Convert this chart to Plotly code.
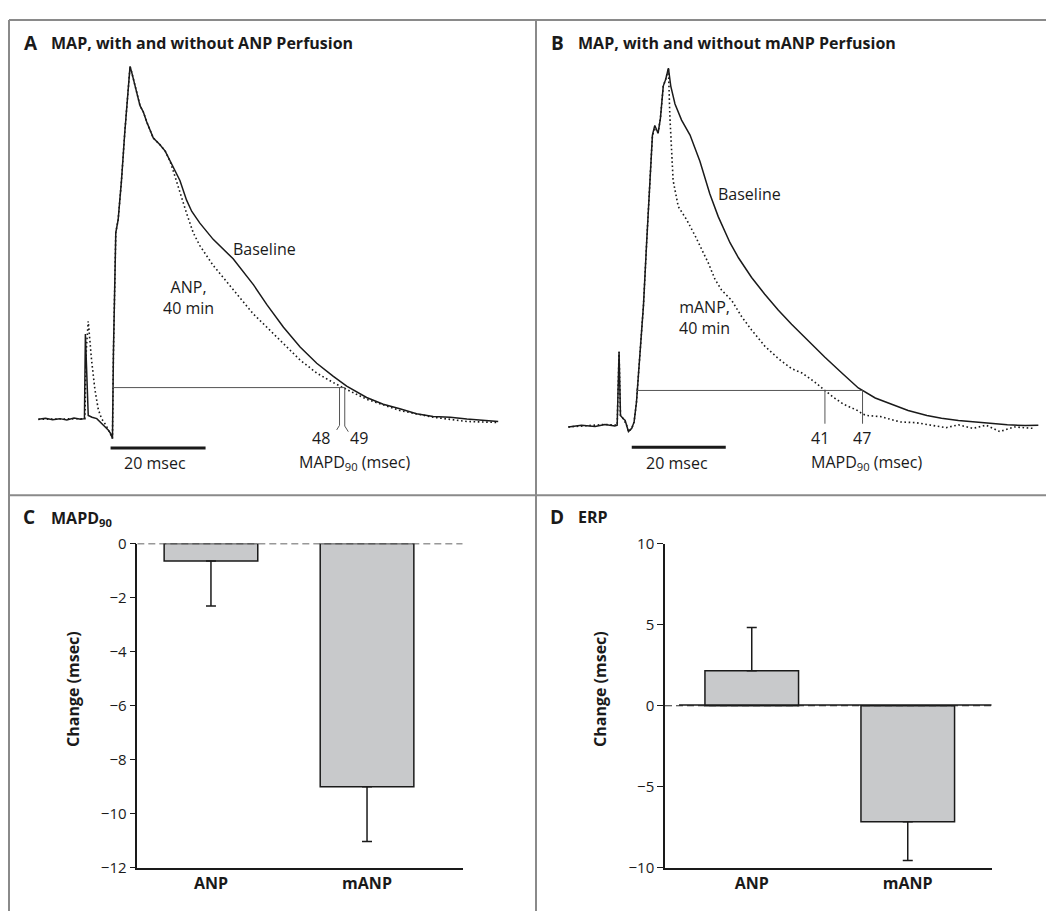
import plotly.graph_objects as go

W, H = 1054, 912
OFF = 8  # page body margin in the browser shifts the figure by this many pixels

# ---------------- Panel A data (time in msec from upstroke, amplitude in % of peak) ----------------
a_base_t = [-15.5, -14.0, -12.5, -11.0, -9.5, -8.0, -6.6, -5.8, -5.6, -5.0, -4.2, -3.2, -1.8, -0.8, -0.3, 0.1,
            0.3, 0.6, 0.8, 1.3, 2.0, 2.7, 3.1, 3.4, 3.8, 4.1, 4.5, 5.2, 5.9, 6.6, 7.3, 8.7, 10.1, 11.2,
            12.2, 12.9, 14.3, 15.7, 16.8, 18.5, 21.3, 25.5, 29.8, 32.6, 36.1, 39.6, 43.1, 46.6, 49.4,
            53.6, 57.1, 60.6, 64.1, 67.6, 71.2, 74.7, 78.2, 81.3]
a_base_v = [0.0, 0.3, -0.1, 0.2, -0.2, 0.4, 0.0, 0.2, 24.2, 1.1, 0.6, 0.2, -1.7, -3.0, -4.0, -5.4,
            18.7, 41.8, 52.9, 56.6, 67.7, 81.5, 88.0, 94.5, 100.0, 98.6, 96.3, 92.6, 88.9, 87.1, 84.3, 79.7, 77.8, 76.0,
            73.2, 71.3, 67.7, 62.1, 58.9, 55.6, 51.0, 45.5, 38.1, 32.5, 26.1, 20.5, 15.9, 12.2, 9.4,
            6.2, 4.3, 3.0, 1.6, 0.8, 0.6, 0.1, -0.2, -0.6]

a_drug_t = [-15.5, -8.0, -5.7, -5.4, -5.0, -4.3, -3.6, -2.9, -2.2, -1.2, -0.4, 0.1,
            0.3, 0.6, 0.8, 1.3, 2.0, 2.7, 3.1, 3.4, 3.8, 4.1, 4.5, 5.2, 5.9, 6.6, 7.3, 8.7, 10.1, 11.2, 12.2,
            12.9, 14.3, 15.7, 17.1, 18.5, 21.3, 24.1, 26.9, 29.8, 32.6, 36.1, 39.6, 43.1, 46.6, 50.1,
            53.6, 60.6, 67.6, 74.7, 81.3]
a_drug_v = [0.0, 0.3, 0.2, 20.0, 27.8, 16.8, 8.5, 2.9, 0.2, -1.8, -3.8, -5.4,
            18.7, 41.8, 52.9, 56.6, 67.7, 81.5, 88.0, 94.5, 100.0, 98.6, 96.3, 92.6, 88.9, 87.1, 84.3, 79.7, 77.8, 76.0, 73.2,
            70.4, 64.3, 58.4, 52.9, 49.2, 43.6, 39.0, 34.4, 29.8, 26.1, 21.4, 16.8, 13.1, 10.4, 8.0,
            5.7, 2.5, 0.6, -0.6, -0.9]

# ---------------- Panel B data ----------------
b_base_t = [-14.4, -11.6, -8.7, -6.6, -4.5, -4.0, -3.6, -3.3, -2.7, -2.3, -2.0, -1.6, -0.9, -0.4,
            0.1, 0.9, 1.6, 2.3, 3.0, 3.5, 4.0, 4.7, 5.2, 5.8, 6.3, 6.9, 7.4, 8.3, 9.7, 11.5,
            13.6, 15.7, 17.5, 20.0, 21.8, 24.6, 27.4, 30.3, 33.1, 36.7, 40.2, 43.8, 47.3,
            50.9, 53.3, 57.9, 61.9, 65.0, 68.6, 72.0, 75.7, 79.0, 82.8, 85.6]
b_base_v = [-0.3, 0.2, -0.2, 0.4, 0.0, 0.2, 20.7, 2.9, 2.0, 1.5, 0.2, -1.6, -0.7, 1.1,
            6.6, 20.2, 33.9, 52.1, 70.4, 81.3, 84.0, 81.8, 86.0, 95.0, 96.8, 100.0, 95.0, 90.0, 85.5, 81.3,
            74.0, 64.9, 58.5, 51.2, 47.0, 41.5, 36.8, 32.3, 28.4, 23.6, 19.2, 14.8, 10.6,
            7.8, 6.6, 4.3, 2.9, 2.1, 1.5, 1.1, 0.7, 0.3, 0.1, 0.2]

b_drug_t = [-14.4, -6.6, -4.0, -3.6, -3.3, -2.7, -2.0, -1.6, -0.9, -0.4,
            0.1, 0.9, 1.6, 2.3, 3.0, 3.5, 4.0, 4.7, 5.2, 5.8, 6.3, 6.9,
            7.2, 7.6, 7.9, 9.0, 10.8, 12.6, 13.6, 15.4, 16.8, 18.2, 20.4, 22.5, 24.6,
            27.4, 30.3, 33.1, 35.3, 38.0, 39.9, 42.0, 44.1, 47.3, 48.2, 49.1, 52.0, 56.2, 59.5, 63.2,
            66.0, 68.6, 71.7, 74.5, 77.4, 80.5, 84.5]
b_drug_v = [-0.3, 0.4, 0.2, 20.7, 2.9, 2.0, 0.2, -1.6, -0.7, 1.1,
            6.6, 20.2, 33.9, 52.1, 70.4, 81.3, 82.8, 82.0, 86.0, 95.0, 96.8, 100.0,
            86.8, 77.7, 68.6, 61.3, 57.6, 53.1, 50.3, 45.5, 41.0, 38.0, 35.0, 30.5, 26.8,
            22.3, 18.8, 16.0, 14.8, 12.3, 10.2, 8.0, 6.1, 4.2, 3.3, 2.9, 2.6, 1.1, 0.9, 0.2,
            -0.5, 0.3, -0.7, 0.2, -1.6, -0.3, -0.7]

# MAPD90 readouts
a_mapd_level = 9.0
a_mapd_pos = [47.9, 49.0]
a_mapd_labels = ["48", "49"]
b_mapd_level = 9.9
b_mapd_pos = [40.2, 48.2]
b_mapd_labels = ["41", "47"]
scale_bar_ms = 20

# ---------------- Panels C and D (change in msec) ----------------
groups = ["ANP", "mANP"]
mapd_change = [-0.65, -9.0]
mapd_err = [1.66, 2.02]
erp_change = [2.16, -7.15]
erp_err = [2.66, 2.39]

mapd_ticks = [0, -2, -4, -6, -8, -10, -12]
erp_ticks = [10, 5, 0, -5, -10]

INK = "#1a1a1a"
BAR = "#c8c9cb"
GRAYLINE = "#555555"
FONT = "Open Sans"
LBL = 16


def px(x):
    return (x - OFF) / W


def py(y):
    return 1 - (y - OFF) / H


fig = go.Figure()

# --- Panel A traces
fig.add_trace(go.Scatter(x=a_drug_t, y=a_drug_v, mode="lines", xaxis="x", yaxis="y",
                         line=dict(color=INK, width=1.6, dash="1.6px,2.6px"), hoverinfo="skip"))
fig.add_trace(go.Scatter(x=a_base_t, y=a_base_v, mode="lines", xaxis="x", yaxis="y",
                         line=dict(color=INK, width=1.5), hoverinfo="skip"))
fig.add_trace(go.Scatter(x=[0, a_mapd_pos[1]], y=[a_mapd_level, a_mapd_level], mode="lines",
                         xaxis="x", yaxis="y", line=dict(color=GRAYLINE, width=1), hoverinfo="skip"))
fig.add_trace(go.Scatter(x=[a_mapd_pos[0] - 0.6, a_mapd_pos[0], a_mapd_pos[0]],
                         y=[-3.0, -1.7, a_mapd_level], mode="lines", xaxis="x", yaxis="y",
                         line=dict(color=GRAYLINE, width=1), hoverinfo="skip"))
fig.add_trace(go.Scatter(x=[a_mapd_pos[1] + 0.75, a_mapd_pos[1], a_mapd_pos[1]],
                         y=[-3.5, -1.9, a_mapd_level], mode="lines", xaxis="x", yaxis="y",
                         line=dict(color=GRAYLINE, width=1), hoverinfo="skip"))
fig.add_trace(go.Scatter(x=[-0.3, -0.3 + scale_bar_ms], y=[-8.1, -8.1], mode="lines", xaxis="x", yaxis="y",
                         line=dict(color=INK, width=3), hoverinfo="skip"))

# --- Panel B traces
fig.add_trace(go.Scatter(x=b_drug_t, y=b_drug_v, mode="lines", xaxis="x2", yaxis="y2",
                         line=dict(color=INK, width=1.6, dash="1.6px,2.6px"), hoverinfo="skip"))
fig.add_trace(go.Scatter(x=b_base_t, y=b_base_v, mode="lines", xaxis="x2", yaxis="y2",
                         line=dict(color=INK, width=1.5), hoverinfo="skip"))
fig.add_trace(go.Scatter(x=[0, b_mapd_pos[1]], y=[b_mapd_level, b_mapd_level], mode="lines",
                         xaxis="x2", yaxis="y2", line=dict(color=GRAYLINE, width=1), hoverinfo="skip"))
for p in b_mapd_pos:
    fig.add_trace(go.Scatter(x=[p, p], y=[0.6, b_mapd_level], mode="lines", xaxis="x2", yaxis="y2",
                             line=dict(color=GRAYLINE, width=1), hoverinfo="skip"))
fig.add_trace(go.Scatter(x=[-0.9, -0.9 + scale_bar_ms], y=[-6.0, -6.0], mode="lines", xaxis="x2", yaxis="y2",
                         line=dict(color=INK, width=3), hoverinfo="skip"))

# --- Panel C bars
fig.add_trace(go.Bar(x=[0, 1], y=mapd_change, width=0.6, xaxis="x3", yaxis="y3",
                     marker=dict(color=BAR, line=dict(color=INK, width=1.5)),
                     error_y=dict(type="data", symmetric=False, array=[0, 0], arrayminus=mapd_err,
                                  color=INK, thickness=1.5, width=5), hoverinfo="skip"))
fig.add_trace(go.Scatter(x=[-0.472, 1.613], y=[0, 0], mode="lines", xaxis="x3", yaxis="y3",
                         line=dict(color="#333333", width=1.2, dash="7px,4px"), hoverinfo="skip"))

# --- Panel D bars
fig.add_trace(go.Bar(x=[0, 1], y=erp_change, width=0.6, xaxis="x4", yaxis="y4",
                     marker=dict(color=BAR, line=dict(color=INK, width=1.5)),
                     error_y=dict(type="data", symmetric=False, array=[erp_err[0], 0],
                                  arrayminus=[0, erp_err[1]], color=INK, thickness=1.5, width=5),
                     hoverinfo="skip"))
fig.add_trace(go.Scatter(x=[-0.556, 1.538], y=[0, 0], mode="lines", xaxis="x4", yaxis="y4",
                         line=dict(color="#333333", width=1.2, dash="7px,4px"), hoverinfo="skip"))
fig.add_trace(go.Scatter(x=[-0.466, 1.538], y=[0.05, 0.05], mode="lines", xaxis="x4", yaxis="y4",
                         line=dict(color=INK, width=1.4), hoverinfo="skip"))

hidden = dict(visible=False, fixedrange=True)
bar_x = dict(showline=True, linecolor=INK, linewidth=1.5, ticks="", showgrid=False, zeroline=False,
             tickvals=[0, 1], ticktext=["<b>%s</b>" % g for g in groups],
             tickfont=dict(family=FONT, size=16, color=INK), fixedrange=True)
bar_y = dict(showline=True, linecolor=INK, linewidth=1.5, ticks="outside", ticklen=6, tickwidth=1.2,
             tickcolor=INK, showgrid=False, zeroline=False,
             tickfont=dict(family=FONT, size=15, color=INK), fixedrange=True)

fig.update_layout(
    width=W, height=H, margin=dict(l=0, r=0, t=0, b=0),
    paper_bgcolor="white", plot_bgcolor="rgba(0,0,0,0)", showlegend=False,
    font=dict(family=FONT, color=INK),
    xaxis=dict(domain=[px(30), px(520)], range=[-17.26, 85.89], **hidden),
    yaxis=dict(domain=[py(470), py(50)], range=[-14.6, 101.8], **hidden),
    xaxis2=dict(domain=[px(555), px(1045)], range=[-17.23, 87.02], **hidden),
    yaxis2=dict(domain=[py(470), py(50)], range=[-12.58, 102.27], **hidden),
    xaxis3=dict(domain=[px(137.3), px(462.7)], range=[-0.472, 1.613], anchor="y3", **bar_x),
    yaxis3=dict(domain=[py(876), py(544.3)], range=[-12, 0], anchor="x3", tickvals=mapd_ticks, **bar_y),
    xaxis4=dict(domain=[px(665), px(991.7)], range=[-0.556, 1.538], anchor="y4", **bar_x),
    yaxis4=dict(domain=[py(876), py(544.3)], range=[-10, 10], anchor="x4", tickvals=erp_ticks, **bar_y),
)

# panel frame lines
frame = dict(color="#8a8a8a", width=2)
for x0, y0, x1, y1 in [(9, 9, W + OFF, 9), (9, 9, 9, H + OFF), (536, 9, 536, H + OFF), (9, 495, W + OFF, 495)]:
    fig.add_shape(type="line", xref="paper", yref="paper", x0=px(x0), y0=py(y0), x1=px(x1), y1=py(y1),
                  line=frame)


def note(text, x, y, size=LBL, xanchor="center", bold=False, ref=("paper", "paper"), angle=0):
    fig.add_annotation(text=("<b>%s</b>" % text) if bold else text, x=x, y=y, xref=ref[0], yref=ref[1],
                       showarrow=False, xanchor=xanchor, yanchor="middle", textangle=angle,
                       font=dict(family=FONT, size=size, color=INK), align="center")


# panel titles
note("A", px(22), py(33), size=19, xanchor="left", bold=True)
note("MAP, with and without ANP Perfusion", px(49), py(33), size=16, xanchor="left", bold=True)
note("B", px(549), py(33), size=19, xanchor="left", bold=True)
note("MAP, with and without mANP Perfusion", px(576), py(33), size=16, xanchor="left", bold=True)
note("C", px(21), py(517), size=19, xanchor="left", bold=True)
note("MAPD<sub>90</sub>", px(49), py(519), size=16, xanchor="left", bold=True)
note("D", px(548), py(517), size=19, xanchor="left", bold=True)
note("ERP", px(576), py(517), size=16, xanchor="left", bold=True)

# axis titles
note("Change (msec)", px(73), py(693), size=16, bold=True, angle=-90)
note("Change (msec)", px(600), py(693), size=16, bold=True, angle=-90)

# panel A / B labels (data coordinates)
A = ("x", "y")
B = ("x2", "y2")
note("Baseline", 32.1, 48.4, ref=A)
note("ANP,<br>40 min", 16.1, 34.5, ref=A)
note(a_mapd_labels[0], 44.1, -5.4, ref=A)
note(a_mapd_labels[1], 52.1, -5.4, ref=A)
note("MAPD<sub>90</sub> (msec)", 51.2, -12.3, ref=A)
note("%d msec" % scale_bar_ms, 9.1, -12.3, ref=A)

note("Baseline", 24.1, 64.9, ref=B)
note("mANP,<br>40 min", 14.5, 30.4, ref=B)
note(b_mapd_labels[0], 39.2, -3.5, ref=B)
note(b_mapd_labels[1], 48.0, -3.5, ref=B)
note("MAPD<sub>90</sub> (msec)", 49.1, -10.3, ref=B)
note("%d msec" % scale_bar_ms, 8.7, -10.3, ref=B)

fig.write_html("out.html")
